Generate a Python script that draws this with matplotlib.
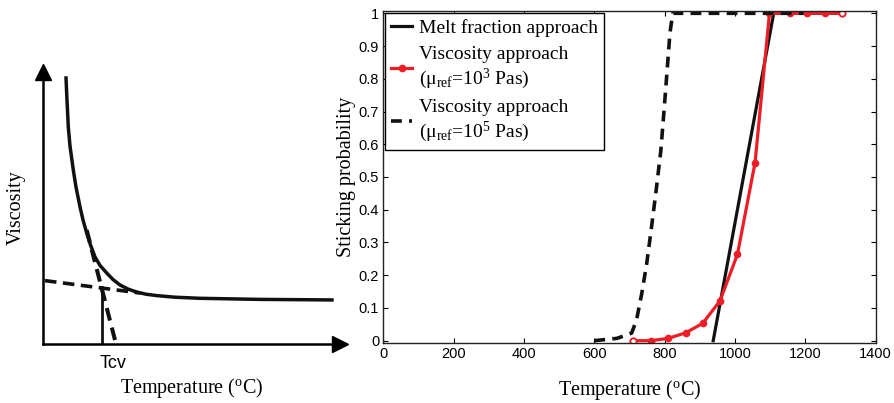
import numpy as np
import matplotlib
matplotlib.use("Agg")
import matplotlib.pyplot as plt

plt.rcParams['mathtext.fontset'] = 'custom'
plt.rcParams['mathtext.rm'] = 'Liberation Serif'
plt.rcParams['mathtext.it'] = 'Liberation Serif:italic'

SERIF = 'Liberation Serif'
SANS = 'Liberation Sans'

# ---- right panel data: sticking probability vs temperature ----
melt_T = [938, 1024, 1110, 1300]
melt_p = [0.0, 0.5, 1.0, 1.0]

visc3_T = [710, 760, 810, 860, 908, 957, 1007, 1057, 1098, 1155, 1205, 1255, 1305]
visc3_p = [0.0, 0.0, 0.007, 0.024, 0.053, 0.121, 0.264, 0.544, 1.0, 1.0, 1.0, 1.0, 1.0]

visc5_T = [600, 664, 706, 720, 735, 749, 763, 777, 789, 798, 808, 815, 823, 1195]
visc5_p = [0.0, 0.007, 0.023, 0.063, 0.145, 0.236, 0.35, 0.47, 0.58, 0.70, 0.84, 0.94, 1.0, 1.0]

xticks = [0, 200, 400, 600, 800, 1000, 1200, 1400]
yticks = [0, 0.1, 0.2, 0.3, 0.4, 0.5, 0.6, 0.7, 0.8, 0.9, 1]

# ---- left panel: schematic viscosity curve (arbitrary units) ----
curve_x = [0.784, 0.817, 0.861, 0.918, 1.029, 1.120, 1.255, 1.356, 1.480, 1.608,
           1.759, 1.927, 2.153, 2.365, 2.600, 2.869, 3.162, 3.475, 3.835, 4.451,
           5.291, 7.31, 9.73]
curve_y = [9.78, 8.97, 7.98, 7.28, 6.40, 5.77, 5.04, 4.56, 4.08, 3.64,
           3.20, 2.89, 2.61, 2.37, 2.17, 2.02, 1.91, 1.83, 1.78, 1.72,
           1.68, 1.64, 1.62]
tang_low_x = [0.077, 3.27]
tang_low_y = [2.33, 1.875]
tang_high_x = [1.48, 2.466]
tang_high_y = [4.19, 0.0]
tcv_x = 2.005
tcv_top = 2.11

fig = plt.figure(figsize=(8.94, 4.03), dpi=100)

# left schematic
axl = fig.add_axes([42.7 / 894, 1 - 344 / 403, 297.3 / 894, 272 / 403])
axl.set_xlim(0, 10)
axl.set_ylim(0, 10)
for s in ['top', 'right']:
    axl.spines[s].set_visible(False)
for s in ['left', 'bottom']:
    axl.spines[s].set_linewidth(1.8)
axl.set_xticks([])
axl.set_yticks([])
axl.plot(1, 0, '>k', ms=12, transform=axl.get_yaxis_transform(), clip_on=False)
axl.plot(0, 1, '^k', ms=12, transform=axl.get_xaxis_transform(), clip_on=False)
axl.plot(curve_x, curve_y, color='#111111', lw=2.5, solid_joinstyle='round')
axl.plot(tang_low_x, tang_low_y, color='#111111', lw=2.6, dashes=(3.2, 1.8))
axl.plot(tang_high_x, tang_high_y, color='#111111', lw=2.9, dashes=(3.2, 1.8))
axl.plot([tcv_x, tcv_x], [0, tcv_top], color='#111111', lw=2.0)
axl.text(2.36, -0.7, 'Tcv', family=SANS, fontsize=13, ha='center', va='center')
axl.set_xlabel('Temperature ($^{\\rm o}$C)', family=SERIF, fontsize=14.5, labelpad=23)
axl.set_ylabel('Viscosity', family=SERIF, fontsize=14.5, labelpad=12)

# right plot
ax = fig.add_axes([383.3 / 894, 1 - 343.3 / 403, 492.4 / 894, 332.3 / 403])
ax.plot(melt_T, melt_p, color='#111111', lw=2.3, label='Melt fraction approach')
ax.plot(visc3_T, visc3_p, color='#ee1c25', lw=2.3, marker='o', ms=4.5,
        label='Viscosity approach\n(μ$_{\\rm ref}$=10$^3$ Pas)')
ax.plot([visc3_T[0], visc3_T[-1]], [visc3_p[0], visc3_p[-1]], ls='none', marker='o',
        ms=4.5, mfc='white', mec='#ee1c25', mew=1.3)
ax.plot(visc5_T, visc5_p, color='#111111', lw=2.6, dashes=(3.0, 2.0),
        label='Viscosity approach\n(μ$_{\\rm ref}$=10$^5$ Pas)')

ax.set_xlim(0, 1400)
ax.set_ylim(-0.008, 1.007)
ax.set_xticks(xticks)
ax.set_yticks(yticks)
ax.set_yticklabels(['%g' % v for v in yticks])
ax.tick_params(direction='in', top=True, right=True, length=3.5, width=0.8,
               labelsize=10.5, pad=3)
for lab in ax.get_xticklabels() + ax.get_yticklabels():
    lab.set_family(SANS)
for s in ax.spines.values():
    s.set_linewidth(1.0)
    s.set_color('#222222')
ax.set_xlabel('Temperature ($^{\\rm o}$C)', family=SERIF, fontsize=14.5, labelpad=12)
ax.set_ylabel('Sticking probability', family=SERIF, fontsize=14.5, labelpad=2)

leg = ax.legend(loc='upper left', bbox_to_anchor=(0.0035, 0.993), borderaxespad=0,
                prop={'family': SERIF, 'size': 14}, handlelength=1.1,
                handletextpad=0.35, labelspacing=0.45, numpoints=1,
                fancybox=False, framealpha=1, borderpad=0.3)
leg.get_frame().set_edgecolor('black')
leg.get_frame().set_linewidth(1.0)

fig.savefig('out.png', dpi=100)
